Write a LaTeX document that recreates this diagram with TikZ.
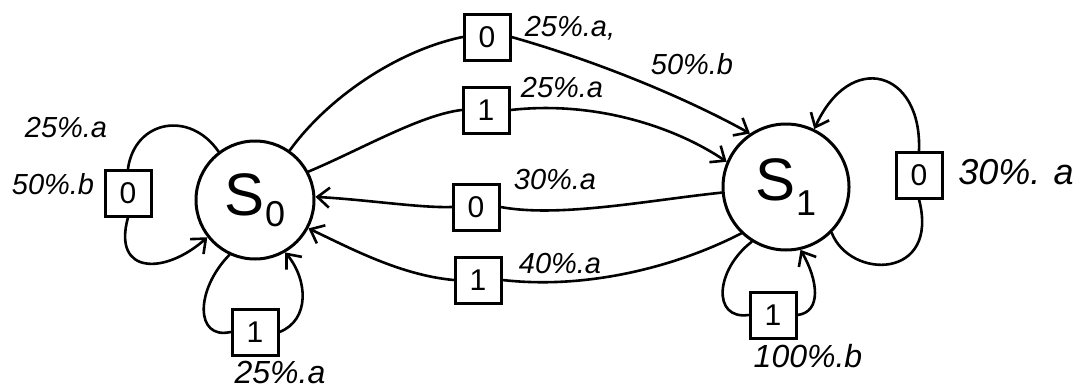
\documentclass[tikz,border=0pt]{standalone}
\usepackage{fontspec}
\setmainfont{Liberation Sans}
\usetikzlibrary{arrows.meta}
\tikzset{
  state/.style={draw,circle,line width=3pt,inner sep=0pt,font=\fontsize{60}{62}\selectfont},
  sym/.style={draw,rectangle,line width=3pt,minimum width=46pt,minimum height=46pt,inner sep=0pt,font=\fontsize{30}{32}\selectfont},
  lbl/.style={font=\fontsize{29}{31}\selectfont\itshape,inner sep=0pt},
  edge/.style={line width=2.6pt,line cap=round},
  arr/.style={edge,-{Straight Barb[length=12pt,width=20pt,line width=2.6pt]}}
}
\begin{document}
\begin{tikzpicture}[x=1pt,y=-1pt]
\useasboundingbox (0,0) rectangle (1091,388);
% states
\node[state,minimum size=118pt] (s0) at (255,200) {S\raisebox{-0.35ex}{\fontsize{36}{38}\selectfont 0}};
\node[state,minimum size=126pt] (s1) at (786,187) {S\raisebox{-0.45ex}{\fontsize{36}{38}\selectfont 1}};
% symbol boxes
\node[sym] (b00) at (128,193) {0};
\node[sym] (b01) at (255,332) {1};
\node[sym] (bt0) at (487,37) {0};
\node[sym] (bt1) at (486,110) {1};
\node[sym] (bm0) at (476,207) {0};
\node[sym] (bm1) at (478,280) {1};
\node[sym] (b10) at (919,175) {0};
\node[sym] (b11) at (773,315) {1};
% S0 self loops
\draw[edge] (s0.127) .. controls (190,110) and (135,120) .. (b00.north);
\draw[arr] (b00.south) .. controls (112,275) and (165,275) .. (s0.218);
\draw[edge] (s0.245) .. controls (195,290) and (195,340) .. (b01.west);
\draw[arr] (b01.east) .. controls (310,320) and (308,280) .. (s0.300);
% S0 -> S1
\draw[edge] (s0.55) .. controls (330,95) and (400,50) .. (bt0.west);
\draw[arr] (bt0.east) .. controls (600,62) and (690,100) .. (s1.124);
\draw[edge] (s0.28) .. controls (360,150) and (420,115) .. (bt1.west);
\draw[arr] (bt1.east) .. controls (600,100) and (680,130) .. (s1.157);
% S1 -> S0
\draw[edge] (s1.185) .. controls (650,200) and (560,218) .. (bm0.east);
\draw[arr] (bm0.west) .. controls (420,208) and (370,200) .. (s0.3);
\draw[edge] (s1.226) .. controls (680,265) and (590,290) .. (bm1.east);
\draw[arr] (bm1.west) .. controls (400,275) and (350,248) .. (s0.-28);
% S1 self loops
\draw[arr] (b10.north) .. controls (922,70) and (850,50) .. (s1.64);
\draw[edge] (b10.south) .. controls (940,280) and (850,280) .. (s1.-45);
\draw[edge] (s1.238) .. controls (715,270) and (712,320) .. (b11.west);
\draw[arr] (b11.east) .. controls (822,312) and (818,280) .. (s1.283);
% labels
\node[lbl] (l1) at (66,128) {25\%.a};
\node[lbl] (l2) at (53,184) {50\%.b};
\node[lbl,font=\fontsize{32}{34}\selectfont\itshape] (l3) at (280,372) {25\%.a};
\node[lbl] (l4a) at (570,28) {25\%.a,};
\node[lbl] (l4b) at (692,64) {50\%.b};
\node[lbl] (l5) at (562,88) {25\%.a};
\node[lbl] (l6) at (555,180) {30\%.a};
\node[lbl] (l7) at (560,264) {40\%.a};
\node[lbl,font=\fontsize{36}{38}\selectfont\itshape] (l8) at (1016,172) {30\%. a};
\node[lbl,font=\fontsize{32}{34}\selectfont\itshape] (l9) at (808,356) {100\%.b};
\end{tikzpicture}
\end{document}
